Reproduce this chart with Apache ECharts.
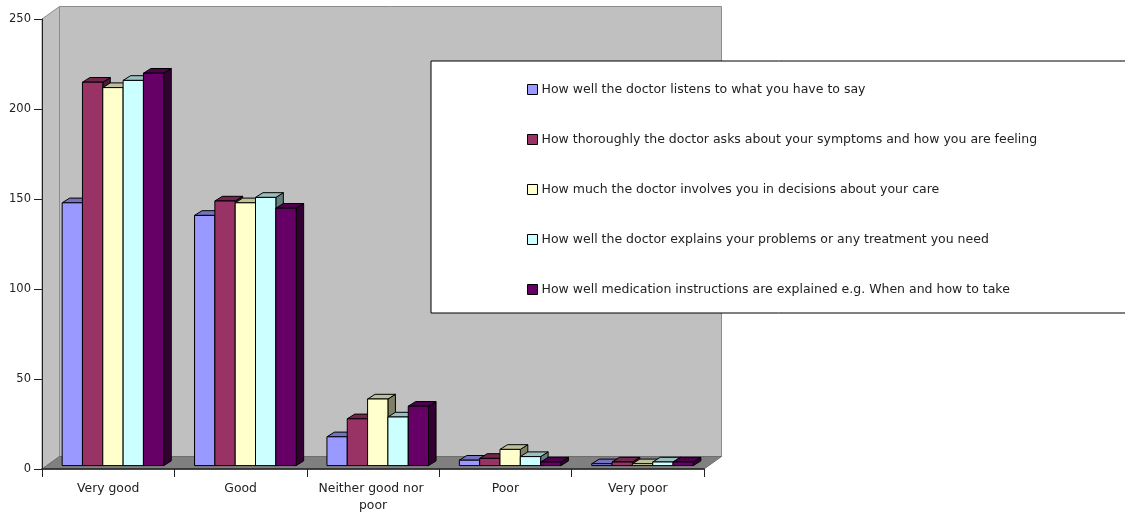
<!DOCTYPE html>
<html>
<head>
<meta charset="utf-8">
<script src="https://cdn.jsdelivr.net/npm/echarts@6/dist/echarts.min.js"></script>
<style>html,body{margin:0;padding:0;background:#fff}#chart{width:1125px;height:515px}</style>
</head>
<body>
<div id="chart"></div>
<script>
// Patient ratings of doctor communication, drawn as a pseudo-3D clustered column chart.
const categories = ['Very good', 'Good', 'Neither good nor poor', 'Poor', 'Very poor'];
const seriesNames = [
  'How well the doctor listens to what you have to say',
  'How thoroughly the doctor asks about your symptoms and how you are feeling',
  'How much the doctor involves you in decisions about your care',
  'How well the doctor explains your problems or any treatment you need',
  'How well medication instructions are explained e.g. When and how to take'
];
const listens = [146, 139, 16, 3, 1];
const asks = [213, 147, 26, 4, 2];
const involves = [210, 146, 37, 9, 1];
const explains = [214, 149, 27, 5, 2];
const medication = [218, 143, 33, 2, 2];
const seriesValues = [listens, asks, involves, explains, medication];
const colors = ['#9999FF', '#993366', '#FFFFCC', '#CCFFFF', '#660066'];
const tops = ['#7373BF', '#73264D', '#BFBF99', '#99BFBF', '#4D004D'];
const sides = ['#4D4D80', '#4D1A33', '#808066', '#668080', '#330033'];

// Oblique projection: how far the room recedes, and where a column sits inside it.
const roomDepth = [17.5, -12.5];
const barDepth = [7.5, -4.7];
const barFront = [4.75, -3.4];
const barShare = 0.1535;
const edge = '#000';

function quad(points, fill, stroke, width) {
  return {
    type: 'polygon',
    shape: { points: points },
    style: { fill: fill, stroke: stroke, lineWidth: width }
  };
}

function renderRoom(params, api) {
  const cs = params.coordSys;
  const l = cs.x, r = cs.x + cs.width, t = cs.y, b = cs.y + cs.height;
  const dx = roomDepth[0], dy = roomDepth[1];
  return {
    type: 'group',
    children: [
      quad([[l + dx, t + dy], [r + dx, t + dy], [r + dx, b + dy], [l + dx, b + dy]], '#C0C0C0', '#8C8C8C', 1),
      quad([[l, t], [l + dx, t + dy], [l + dx, b + dy], [l, b]], '#C0C0C0', '#8C8C8C', 1),
      quad([[l, b], [l + dx, b + dy], [r + dx, b + dy], [r, b]], '#808080', '#6E6E6E', 1)
    ]
  };
}

function makeRenderBar(s) {
  return function (params, api) {
    const cat = api.value(0);
    const p0 = api.coord([cat, 0]);
    const p1 = api.coord([cat, api.value(1)]);
    const w = api.size([1, 0])[0] * barShare;
    const x0 = p0[0] + barFront[0] + (s - 2.5) * w;
    const x1 = x0 + w;
    const yb = p0[1] + barFront[1];
    const yt = p1[1] + barFront[1];
    const dx = barDepth[0], dy = barDepth[1];
    return {
      type: 'group',
      children: [
        quad([[x1, yt], [x1 + dx, yt + dy], [x1 + dx, yb + dy], [x1, yb]], sides[s], edge, 1),
        quad([[x0, yt], [x0 + dx, yt + dy], [x1 + dx, yt + dy], [x1, yt]], tops[s], edge, 1),
        quad([[x0, yt], [x1, yt], [x1, yb], [x0, yb]], colors[s], edge, 1)
      ]
    };
  };
}

const barSeries = seriesNames.map(function (name, s) {
  return {
    name: name,
    type: 'custom',
    renderItem: makeRenderBar(s),
    encode: { x: 0, y: 1 },
    itemStyle: { color: colors[s] },
    z: 3,
    data: seriesValues[s].map(function (v, i) { return [i, v]; })
  };
});

const chart = echarts.init(document.getElementById('chart'), null, { renderer: 'canvas' });
chart.setOption({
  animation: false,
  backgroundColor: '#fff',
  textStyle: { fontFamily: '"DejaVu Sans"' },
  grid: { left: 42, right: 421, top: 19, bottom: 46, containLabel: false },
  xAxis: {
    type: 'category',
    data: categories,
    z: 4,
    axisLine: { lineStyle: { color: '#222', width: 1.5 } },
    axisTick: { show: true, length: 8, alignWithLabel: false, lineStyle: { color: '#222' } },
    axisLabel: {
      color: '#222', fontSize: 12.4, margin: 11, lineHeight: 17,
      interval: 0, width: 125, overflow: 'break'
    },
    splitLine: { show: false }
  },
  yAxis: {
    type: 'value',
    min: 0, max: 250, interval: 50,
    z: 4,
    axisLine: { show: true, lineStyle: { color: '#222', width: 1 } },
    axisTick: { show: true, length: 8, lineStyle: { color: '#222' } },
    axisLabel: { color: '#222', fontSize: 11.5, margin: 11 },
    splitLine: { show: false }
  },
  legend: {
    data: seriesNames,
    orient: 'vertical',
    left: 431,
    top: 61,
    padding: [21, 200, 16, 96],
    itemGap: 35,
    itemWidth: 10,
    itemHeight: 10,
    icon: 'rect',
    align: 'left',
    selectedMode: false,
    backgroundColor: '#fff',
    borderColor: '#000',
    borderWidth: 1,
    itemStyle: { borderColor: '#000', borderWidth: 1 },
    textStyle: { color: '#222', fontSize: 12.5, padding: [0, 0, 0, -1], height: 15, lineHeight: 15 }
  },
  series: [
    {
      name: 'room',
      type: 'custom',
      renderItem: renderRoom,
      silent: true,
      z: 1,
      data: [[0, 0]]
    }
  ].concat(barSeries)
});
</script>
</body>
</html>
